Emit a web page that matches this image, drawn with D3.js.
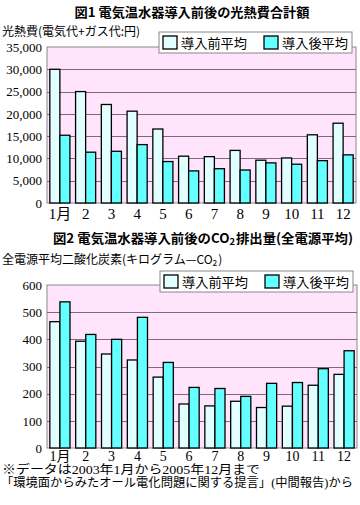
<!DOCTYPE html>
<html><head><meta charset="utf-8">
<script src="https://cdn.jsdelivr.net/npm/d3@7"></script>
<style>
html,body{margin:0;padding:0;background:#fff;}
svg{display:block;}
</style></head>
<body>
<script>
const months = ["1月","2","3","4","5","6","7","8","9","10","11","12"];
const seriesNames = ["導入前平均","導入後平均"];
const costBefore = [30000,25000,22100,20600,16600,10500,10400,11800,9600,10100,15300,17900];
const costAfter  = [15200,11400,11600,13100,9300,7200,7700,7400,9000,8700,9500,10800];
const costTicks = [0,5000,10000,15000,20000,25000,30000,35000];
const co2Before = [465,393,346,324,261,162,155,172,149,154,231,271];
const co2After  = [538,418,400,481,315,223,219,190,238,241,292,358];
const co2Ticks = [0,100,200,300,400,500,600];

const colors = ["#E2FFFF","#66FFFF"];
const W = 360, H = 505;
const svg = d3.select("body").append("svg").attr("width",W).attr("height",H);
const serif = "'Liberation Serif','Noto Sans CJK JP',serif";
const cjk = "'Noto Sans CJK JP',sans-serif";

function addCO2(sel, parts){
  parts.forEach(([t,sub],i)=>{
    const ts = sel.append("tspan").text(t);
    if(sub) ts.attr("font-size","0.7em").attr("dy",1.5);
    else if(i>0) ts.attr("dy",-1.5).attr("dx",1);
  });
}

function chart(cfg){
  const g = svg.append("g");
  const x = d3.scaleBand().domain(months).range([cfg.left,cfg.right]).paddingInner(0.22).paddingOuter(0.11);
  const xs = d3.scaleBand().domain(seriesNames).range([0,x.bandwidth()]);
  const y = d3.scaleLinear().domain([0,cfg.max]).range([cfg.bottom,cfg.top]);
  g.append("rect").attr("x",cfg.left).attr("y",cfg.top).attr("width",cfg.right-cfg.left).attr("height",cfg.bottom-cfg.top)
    .attr("fill","#FFE4FB").attr("stroke","#8a8a8a").attr("stroke-width",1);
  g.selectAll("line.grid").data(cfg.ticks.filter(t=>t>0&&t<cfg.max)).enter().append("line")
    .attr("x1",cfg.left).attr("x2",cfg.right).attr("y1",d=>Math.round(y(d))+0.5).attr("y2",d=>Math.round(y(d))+0.5)
    .attr("stroke","#7a6a7a").attr("stroke-width",1);
  const data = months.map((m,i)=>({m, vals:[cfg.before[i],cfg.after[i]]}));
  const grp = g.selectAll("g.grp").data(data).enter().append("g").attr("transform",d=>`translate(${x(d.m)},0)`);
  grp.selectAll("rect").data(d=>d.vals.map((v,j)=>({v,s:seriesNames[j],j}))).enter().append("rect")
    .attr("x",d=>xs(d.s)).attr("width",xs.bandwidth()).attr("y",d=>y(d.v)).attr("height",d=>cfg.bottom-y(d.v))
    .attr("fill",d=>colors[d.j]).attr("stroke","#000").attr("stroke-width",1.3);
  const ya = d3.axisLeft(y).tickValues(cfg.ticks).tickSize(0).tickPadding(5).tickFormat(d3.format(","));
  const yg = g.append("g").attr("transform",`translate(${cfg.left},0)`).call(ya);
  yg.select(".domain").remove();
  yg.selectAll("text").attr("font-family",serif).attr("font-size",13).attr("fill","#000");
  const xa = d3.axisBottom(x).tickSize(0).tickPadding(0);
  const xg = g.append("g").attr("transform",`translate(0,${cfg.bottom})`).call(xa);
  xg.select(".domain").remove();
  xg.selectAll("text").attr("font-family",serif).attr("font-size",cfg.xFont).attr("fill","#000")
    .attr("y",cfg.xBase).attr("dy",0);
  const tt = g.append("text").attr("x",cfg.titleX).attr("y",cfg.titleY).attr("text-anchor","middle")
    .attr("font-family",cjk).attr("font-weight","bold").attr("font-size",13).attr("fill","#000")
    .attr("textLength",cfg.titleW).attr("lengthAdjust","spacingAndGlyphs");
  addCO2(tt, cfg.title);
  const yt = g.append("text").attr("x",2).attr("y",cfg.ytY).attr("font-family",cjk).attr("font-size",cfg.ytFont).attr("fill","#000");
  addCO2(yt, cfg.ytitle);
  const lg = g.append("g").attr("transform",`translate(${cfg.legX},${cfg.legY})`);
  lg.append("rect").attr("x",0).attr("y",0).attr("width",193).attr("height",21).attr("fill","#fff").attr("stroke","#888").attr("stroke-width",1);
  seriesNames.forEach((s,j)=>{
    const ox = 4 + j*101;
    lg.append("rect").attr("x",ox).attr("y",4).attr("width",14).attr("height",13).attr("fill",colors[j]).attr("stroke","#000").attr("stroke-width",1.3);
    lg.append("text").attr("x",ox+18).attr("y",16).attr("font-family",cjk).attr("font-size",13).attr("fill","#000")
      .attr("textLength",66).attr("lengthAdjust","spacingAndGlyphs").text(s);
  });
}

chart({left:47,right:356,top:47,bottom:203,max:35000,ticks:costTicks,before:costBefore,after:costAfter,
  title:[["図1 電気温水器導入前後の光熱費合計額",false]],titleX:192,titleY:17,titleW:235,
  ytitle:[["光熱費(電気代+ガス代:円)",false]],ytY:36,ytFont:12,legX:159,legY:32,xFont:15,xBase:16});

chart({left:47,right:357,top:285,bottom:448,max:600,ticks:co2Ticks,before:co2Before,after:co2After,
  title:[["図2 電気温水器導入前後のCO",false],["2",true],["排出量(全電源平均)",false]],titleX:203,titleY:243,titleW:300,
  ytitle:[["全電源平均二酸化炭素(キログラム—CO",false],["2",true],[")",false]],ytY:264,ytFont:12,legX:160,legY:271,xFont:14,xBase:13});

svg.append("text").attr("x",2).attr("y",474).attr("font-family",serif).attr("font-size",12).attr("fill","#000")
  .attr("textLength",258).attr("lengthAdjust","spacingAndGlyphs").text("※データは2003年1月から2005年12月まで");
svg.append("text").attr("x",1).attr("y",487).attr("font-family",serif).attr("font-size",12).attr("fill","#000")
  .attr("textLength",352).attr("lengthAdjust","spacingAndGlyphs").text("「環境面からみたオール電化問題に関する提言」(中間報告)から");
</script>
</body></html>
